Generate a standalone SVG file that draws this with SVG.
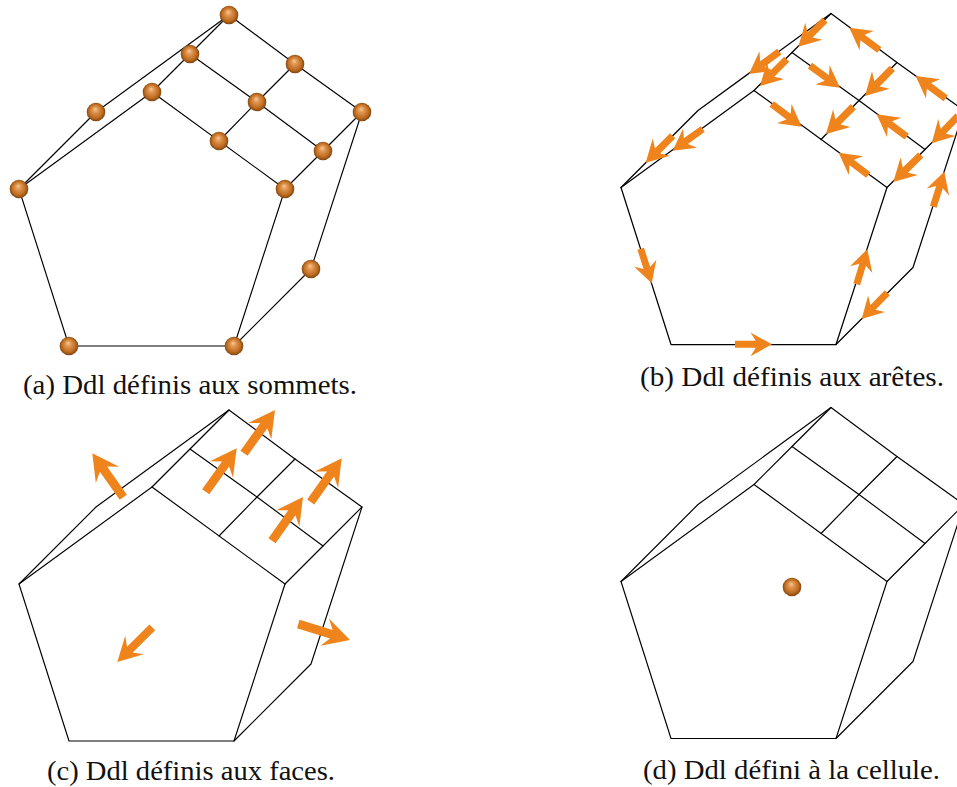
<svg xmlns="http://www.w3.org/2000/svg" width="957" height="787" viewBox="0 0 957 787">
<style>
.wire{fill:none;stroke:#000;stroke-linejoin:round;stroke-linecap:round}
.thin{stroke-width:1.15}
.thick{stroke-width:1.25}
.cap{font-family:"Liberation Serif","Times New Roman",serif;font-size:26.5px;fill:#111}
.ab{fill:#ee841b}
</style>
<defs>
<radialGradient id="ballG" cx="0.5" cy="0.5" r="0.52" fx="0.45" fy="0.33">
<stop offset="0" stop-color="#f8c898"/>
<stop offset="0.3" stop-color="#e09550"/>
<stop offset="0.72" stop-color="#bd6b1e"/>
<stop offset="1" stop-color="#774010"/>
</radialGradient>
<circle id="ball" r="9.3" fill="url(#ballG)"/>
<g id="frame" class="wire">
<path d="M19 189L152 92L285 189L234 346L69 346Z"/>
<path d="M19 189L96 112L229 15L295 64L362 112L323 151L285 189"/>
<path d="M152 92L190 54L229 15"/>
<path d="M362 112L311 269L234 346"/>
<path d="M190 54L257 102L323 151"/>
<path d="M295 64L257 102L219 141"/>
</g>
<polygon id="ae" class="ab" points="0,-.095 .56,-.095 .42,-.32 1,0 .42,.32 .56,.095 0,.095"/>
<polygon id="af" class="ab" points="0,-.082 .64,-.082 .51,-.265 1,0 .51,.265 .64,.082 0,.082"/>
</defs>

<g id="panel-a">
<g id="connectors-a"><use href="#frame" class="thin"/></g>
<g id="dofs-a">
<use href="#ball" x="229" y="15"/><use href="#ball" x="190" y="54"/><use href="#ball" x="152" y="92"/>
<use href="#ball" x="96" y="112"/><use href="#ball" x="19" y="189"/><use href="#ball" x="295" y="64"/>
<use href="#ball" x="257" y="102"/><use href="#ball" x="219" y="141"/><use href="#ball" x="362" y="112"/>
<use href="#ball" x="323" y="151"/><use href="#ball" x="285" y="189"/><use href="#ball" x="311" y="269"/>
<use href="#ball" x="234" y="346"/><use href="#ball" x="69" y="346"/>
</g>
<text id="cap-a" class="cap" x="23" y="394" textLength="334" lengthAdjust="spacingAndGlyphs">(a) Ddl définis aux sommets.</text>
</g>

<g id="panel-b">
<g id="connectors-b"><use href="#frame" class="thick" transform="translate(602 -1.5)"/></g>
<g id="dofs-b">
<use href="#ae" transform="matrix(-26.7 26.7 -26.7 -26.7 825 20)"/>
<use href="#ae" transform="matrix(-30 -22.3 22.3 -30 879.3 50)"/>
<use href="#ae" transform="matrix(-30.3 22.3 -22.3 -30.3 779.3 51.7)"/>
<use href="#ae" transform="matrix(-26.7 26.7 -26.7 -26.7 786.7 59.3)"/>
<use href="#ae" transform="matrix(30 22 -22 30 810 65.7)"/>
<use href="#ae" transform="matrix(-27.3 27.7 -27.7 -27.3 892.3 68.3)"/>
<use href="#ae" transform="matrix(-30 -22.3 22.3 -30 945.7 98.3)"/>
<use href="#ae" transform="matrix(30 22.7 -22.7 30 771.7 104)"/>
<use href="#ae" transform="matrix(-27.3 27.3 -27.3 -27.3 853.3 106.7)"/>
<use href="#ae" transform="matrix(-30 -22.4 22.4 -30 906.7 136.7)"/>
<use href="#ae" transform="matrix(-26.3 27.3 -27.3 -26.3 958 116)"/>
<use href="#ae" transform="matrix(-29.6 -22.3 22.3 -29.6 868.3 175)"/>
<use href="#ae" transform="matrix(-27.4 27 -27 -27.4 920.7 155)"/>
<use href="#ae" transform="matrix(-30 21.7 -21.7 -30 702.7 129)"/>
<use href="#ae" transform="matrix(-27 27 -27 -27 672.7 135.7)"/>
<use href="#ae" transform="matrix(11 -35 35 11 933.3 206.7)"/>
<use href="#ae" transform="matrix(10.6 -35 35 10.6 856.7 284.3)"/>
<use href="#ae" transform="matrix(-25.6 26.3 -26.3 -25.6 887.3 292.7)"/>
<use href="#ae" transform="matrix(11 34.6 -34.6 11 640.7 248.7)"/>
<use href="#ae" transform="matrix(37 0 0 37 735 344.3)"/>
</g>
<text id="cap-b" class="cap" x="640" y="386" textLength="304" lengthAdjust="spacingAndGlyphs">(b) Ddl définis aux arêtes.</text>
</g>

<g id="panel-c">
<g id="connectors-c"><use href="#frame" class="thin" transform="translate(0 395)"/></g>
<g id="dofs-c">
<use href="#af" transform="matrix(-31 -44 44 -31 123.3 497.3)"/>
<use href="#af" transform="matrix(31 -43.3 43.3 31 244 453.3)"/>
<use href="#af" transform="matrix(31 -43.4 43.4 31 205.7 491.7)"/>
<use href="#af" transform="matrix(31 -43.7 43.7 31 310.7 502)"/>
<use href="#af" transform="matrix(31 -43.7 43.7 31 272 540.7)"/>
<use href="#af" transform="matrix(-35 34.7 -34.7 -35 152.3 627.3)"/>
<use href="#af" transform="matrix(51.7 16 -16 51.7 298.3 624)"/>
</g>
<text id="cap-c" class="cap" x="47" y="780" textLength="288" lengthAdjust="spacingAndGlyphs">(c) Ddl définis aux faces.</text>
</g>

<g id="panel-d">
<g id="connectors-d"><use href="#frame" class="thin" transform="translate(602 392.5)"/></g>
<g id="dofs-d"><use href="#ball" x="792" y="587"/></g>
<text id="cap-d" class="cap" x="643" y="779" textLength="297" lengthAdjust="spacingAndGlyphs">(d) Ddl défini à la cellule.</text>
</g>
</svg>
